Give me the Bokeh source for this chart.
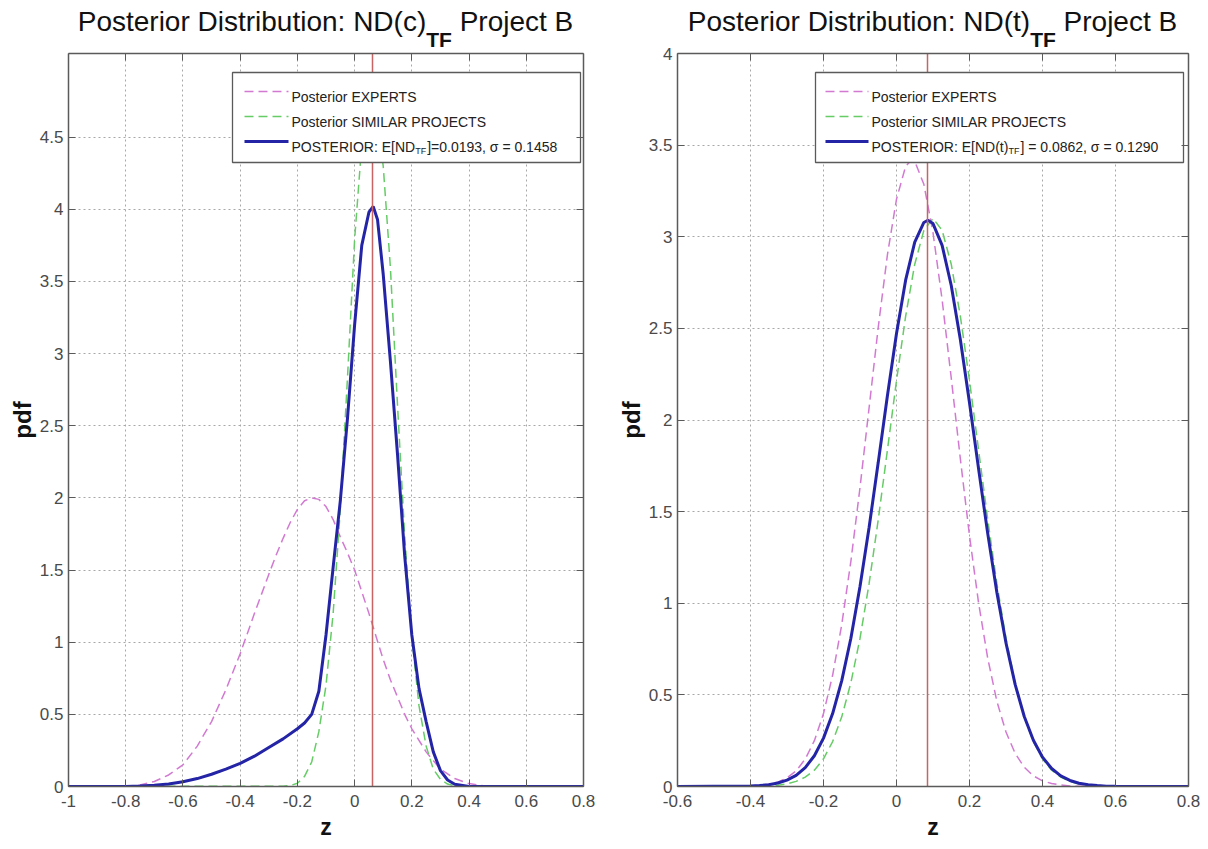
from bokeh.plotting import figure
from bokeh.layouts import row, column
from bokeh.models import LinearAxis, FixedTicker, CustomJSTickFormatter, Label, Range1d, Div
from bokeh.embed import file_html
from bokeh.resources import INLINE

# ---------------- data ----------------
# Left panel: ND(c)_TF
x_range_left = (-1, 0.8)
y_range_left = (0, 5.08)
x_ticks_left = [-1, -0.8, -0.6, -0.4, -0.2, 0, 0.2, 0.4, 0.6, 0.8]
y_ticks_left = [0, 0.5, 1, 1.5, 2, 2.5, 3, 3.5, 4, 4.5]

zL_exp = [-1, -0.8, -0.75, -0.7, -0.65, -0.6, -0.55, -0.5, -0.45, -0.4, -0.35, -0.3, -0.275, -0.25,
          -0.225, -0.2, -0.175, -0.15, -0.125, -0.1, -0.075, -0.05, -0.025, 0, 0.025, 0.05, 0.075,
          0.1, 0.125, 0.15, 0.175, 0.2, 0.25, 0.3, 0.35, 0.4, 0.45, 0.5, 0.8]
pL_exp = [0, 0, 0.01, 0.035, 0.08, 0.15, 0.28, 0.45, 0.67, 0.92, 1.2, 1.47, 1.6, 1.72,
          1.83, 1.92, 1.98, 2.0, 1.99, 1.94, 1.85, 1.73, 1.62, 1.5, 1.35, 1.2, 1.04,
          0.88, 0.74, 0.62, 0.5, 0.4, 0.24, 0.12, 0.055, 0.02, 0.005, 0, 0]

zL_sim = [-1, -0.25, -0.225, -0.2, -0.175, -0.15, -0.125, -0.1, -0.075, -0.05, -0.025, 0, 0.025,
          0.05, 0.06, 0.075, 0.1, 0.125, 0.15, 0.175, 0.2, 0.225, 0.25, 0.275, 0.3, 0.325, 0.35,
          0.375, 0.8]
pL_sim = [0, 0.002, 0.007, 0.022, 0.07, 0.17, 0.38, 0.7, 1.2, 1.92, 2.83, 3.79, 4.45,
          4.73, 4.75, 4.68, 4.3, 3.6, 2.64, 1.74, 1.04, 0.56, 0.28, 0.12, 0.05, 0.017, 0.006,
          0.002, 0]

zL_post = [-1, -0.8, -0.75, -0.7, -0.65, -0.6, -0.55, -0.5, -0.45, -0.4, -0.35, -0.3, -0.25, -0.2,
           -0.175, -0.15, -0.125, -0.1, -0.075, -0.05, -0.025, 0, 0.025, 0.05, 0.065, 0.08, 0.1,
           0.125, 0.15, 0.175, 0.2, 0.225, 0.25, 0.275, 0.3, 0.325, 0.35, 0.4, 0.8]
pL_post = [0, 0, 0.003, 0.008, 0.018, 0.033, 0.055, 0.085, 0.12, 0.16, 0.21, 0.27, 0.33, 0.4,
           0.44, 0.5, 0.66, 1.05, 1.52, 1.98, 2.55, 3.2, 3.75, 3.98, 4.02, 3.93, 3.55,
           2.95, 2.3, 1.6, 1.05, 0.68, 0.45, 0.24, 0.11, 0.045, 0.015, 0, 0]

marker_left = 0.063

# Right panel: ND(t)_TF
x_range_right = (-0.6, 0.8)
y_range_right = (0, 4)
x_ticks_right = [-0.6, -0.4, -0.2, 0, 0.2, 0.4, 0.6, 0.8]
y_ticks_right = [0, 0.5, 1, 1.5, 2, 2.5, 3, 3.5, 4]

zR_exp = [-0.6, -0.4, -0.375, -0.35, -0.325, -0.3, -0.275, -0.25, -0.225, -0.2, -0.175, -0.15,
          -0.125, -0.1, -0.075, -0.05, -0.025, 0, 0.025, 0.042, 0.05, 0.075, 0.1, 0.125, 0.15,
          0.175, 0.2, 0.225, 0.25, 0.275, 0.3, 0.325, 0.35, 0.375, 0.4, 0.425, 0.45, 0.475, 0.5, 0.8]
pR_exp = [0, 0.003, 0.006, 0.012, 0.024, 0.047, 0.085, 0.150, 0.250, 0.398, 0.607, 0.884,
          1.229, 1.631, 2.068, 2.506, 2.900, 3.205, 3.384, 3.42, 3.412, 3.286, 3.023, 2.656, 2.229,
          1.787, 1.368, 1.000, 0.699, 0.465, 0.297, 0.181, 0.105, 0.058, 0.031, 0.016, 0.008, 0.003, 0.001, 0]

zR_sim = [-0.6, -0.35, -0.325, -0.3, -0.275, -0.25, -0.225, -0.2, -0.175, -0.15, -0.125, -0.1,
          -0.075, -0.05, -0.025, 0, 0.025, 0.05, 0.075, 0.1, 0.125, 0.15, 0.175, 0.2, 0.225, 0.25,
          0.275, 0.3, 0.325, 0.35, 0.375, 0.4, 0.425, 0.45, 0.475, 0.5, 0.525, 0.55, 0.8]
pR_sim = [0, 0.003, 0.007, 0.014, 0.028, 0.051, 0.089, 0.151, 0.245, 0.380, 0.566, 0.808,
          1.108, 1.456, 1.834, 2.215, 2.566, 2.850, 3.035, 3.1, 3.035, 2.850, 2.566, 2.215, 1.834, 1.456,
          1.108, 0.808, 0.566, 0.380, 0.245, 0.151, 0.089, 0.051, 0.028, 0.014, 0.007, 0.003, 0]

zR_post = [-0.6, -0.4, -0.375, -0.35, -0.325, -0.3, -0.275, -0.25, -0.225, -0.2, -0.175, -0.15,
           -0.125, -0.1, -0.075, -0.05, -0.025, 0, 0.025, 0.05, 0.075, 0.086, 0.1, 0.125, 0.15,
           0.175, 0.2, 0.225, 0.25, 0.275, 0.3, 0.325, 0.35, 0.375, 0.4, 0.425, 0.45, 0.475, 0.5,
           0.525, 0.55, 0.575, 0.6, 0.8]
pR_post = [0, 0.003, 0.005, 0.010, 0.019, 0.035, 0.061, 0.103, 0.168, 0.264, 0.398, 0.578,
           0.809, 1.091, 1.415, 1.769, 2.131, 2.472, 2.763, 2.971, 3.078, 3.09, 3.072, 2.953, 2.734,
           2.438, 2.094, 1.732, 1.380, 1.059, 0.783, 0.557, 0.382, 0.252, 0.160, 0.098, 0.058, 0.033, 0.018,
           0.009, 0.005, 0.002, 0.001, 0]

marker_right = 0.0862

legend_labels = ["Posterior EXPERTS", "Posterior SIMILAR PROJECTS"]
post_label_left = ("POSTERIOR: E[ND", "TF", "]=0.0193, \u03c3 = 0.1458")
post_label_right = ("POSTERIOR: E[ND(t)", "TF", "] = 0.0862, \u03c3 = 0.1290")
title_left = ("Posterior Distribution: ND(c)", "TF", " Project B")
title_right = ("Posterior Distribution: ND(t)", "TF", " Project B")
x_label = "z"
y_label = "pdf"

# ---------------- style ----------------
FONT = "Liberation Sans"
C_EXP = "#d27ad2"
C_SIM = "#66cc66"
C_POST = "#2424a6"
C_MARK = "#c86464"
C_GRID = "#a8a8a8"
C_AXIS = "#5a5a5a"
C_TICK = "#4a4a4a"
TITLE_H = 40

CW = {' ': 278, '(': 333, ')': 333, ',': 278, '-': 333, '.': 278, ':': 278, '=': 584, '[': 278,
      ']': 278, 'A': 667, 'B': 667, 'C': 722, 'D': 722, 'E': 667, 'F': 611, 'I': 278, 'J': 500,
      'L': 556, 'M': 833, 'N': 722, 'O': 778, 'P': 667, 'R': 722, 'S': 667, 'T': 611, 'X': 667,
      'a': 556, 'b': 556, 'c': 500, 'd': 556, 'e': 556, 'i': 222, 'j': 222, 'n': 556, 'o': 556,
      'r': 333, 's': 500, 't': 278, 'u': 556, '\u03c3': 600}


def text_w(s, size):
    return sum(CW.get(ch, 556) for ch in s) / 1000.0 * size


def make_title(geom, title):
    html = (f'<div style="margin-left:{geom["bl"]}px;width:{geom["width"] - geom["bl"] - geom["br"]}px;'
            f'text-align:center;white-space:nowrap;font-family:\'{FONT}\';font-size:28px;'
            f'line-height:28px;height:28px;color:#111111;padding-top:8px;overflow:visible;">'
            f'{title[0]}<span style="font-size:21px;font-weight:bold;vertical-align:-16px;'
            f'line-height:21px;">{title[1]}</span>{title[2]}</div>')
    return Div(text=html, width=geom["width"], height=TITLE_H,
               styles={"margin": "0", "padding": "0", "overflow": "visible", "z-index": "5"})


def make_panel(geom, xr, yr, xt, yt, curves, marker, post_label, leg):
    W, H = geom["width"], geom["height"]
    bl, br, bt, bb = geom["bl"], geom["br"], geom["bt"], geom["bb"]
    fw, fh = W - bl - br, H - bt - bb
    fx0, fy0 = geom["page_x"] + bl, TITLE_H + bt

    def D(px, py):
        return (xr[0] + (px - fx0) / fw * (xr[1] - xr[0]),
                yr[1] - (py - fy0) / fh * (yr[1] - yr[0]))

    p = figure(width=W, height=H, x_range=Range1d(*xr), y_range=Range1d(*yr),
               output_backend="svg", toolbar_location=None,
               min_border_left=bl, min_border_right=br, min_border_top=bt, min_border_bottom=bb,
               background_fill_color="white", border_fill_color="white", border_fill_alpha=0,
               outline_line_color=None)

    fmt = CustomJSTickFormatter(code="return tick.toString();")
    blank = CustomJSTickFormatter(code="return '';")

    def style_axis(ax, ticks, formatter, standoff, size="17px"):
        ax.ticker = FixedTicker(ticks=ticks)
        ax.formatter = formatter
        ax.minor_tick_line_color = None
        ax.major_tick_in = 7
        ax.major_tick_out = 0
        ax.major_tick_line_color = C_AXIS
        ax.axis_line_color = C_AXIS
        ax.axis_line_width = 1.5
        ax.major_label_text_font = FONT
        ax.major_label_text_font_size = size
        ax.major_label_text_color = C_TICK
        ax.major_label_standoff = standoff

    bottom_ax = p.below[0]
    left_ax = p.left[0]
    style_axis(bottom_ax, xt, fmt, 8)
    style_axis(left_ax, yt, fmt, 5)
    bottom_ax.axis_label = x_label
    left_ax.axis_label = y_label
    for ax, sz, so in ((bottom_ax, "23px", 4), (left_ax, "24px", 1)):
        ax.axis_label_text_font = FONT
        ax.axis_label_text_font_size = sz
        ax.axis_label_text_font_style = "bold"
        ax.axis_label_text_color = "#111111"
        ax.axis_label_standoff = so

    top = LinearAxis()
    style_axis(top, xt, blank, 0, "0px")
    p.add_layout(top, "above")
    right = LinearAxis()
    style_axis(right, yt, blank, 0, "0px")
    p.add_layout(right, "right")

    p.xgrid.ticker = FixedTicker(ticks=xt)
    p.ygrid.ticker = FixedTicker(ticks=yt)
    for g in (p.xgrid[0], p.ygrid[0]):
        g.grid_line_color = C_GRID
        g.grid_line_dash = "2 3"
        g.grid_line_width = 1

    for (zx, py, color, dash, lw) in curves:
        p.line(zx, py, line_color=color, line_dash=dash, line_width=lw)

    p.vspan(x=[marker], line_color=C_MARK, line_width=1.5)

    # legend box
    (lx0, ly0), (lx1, ly1) = D(leg["left"], leg["top"]), D(leg["right"], leg["bottom"])
    p.quad(left=[lx0], right=[lx1], top=[ly0], bottom=[ly1], fill_color="white",
           line_color="#5a5a5a", line_width=1.3)
    styles = [(C_EXP, "9 5", 1.5), (C_SIM, "9 5", 1.5), (C_POST, "solid", 3)]
    for i, (c, d, w) in enumerate(styles):
        yc = leg["rows"][i]
        (sx0, sy), (sx1, _) = D(leg["s0"], yc), D(leg["s1"], yc)
        p.line([sx0, sx1], [sy, sy], line_color=c, line_dash=d, line_width=w)

    fs = 14
    tx = leg["s1"] + 3
    for i, lab in enumerate(legend_labels):
        x, y = D(tx, leg["rows"][i] + 5)
        p.add_layout(Label(x=x, y=y, text=lab, text_font=FONT, text_font_size=f"{fs}px",
                           text_color="#222222", text_baseline="alphabetic", text_align="left"))
    yc = leg["rows"][2]
    cx = tx
    for j, part in enumerate(post_label):
        if j == 1:
            size, dy = 9, 9
        else:
            size, dy = fs, 5
        x, y = D(cx, yc + dy)
        p.add_layout(Label(x=x, y=y, text=part, text_font=FONT, text_font_size=f"{size}px",
                           text_color="#222222", text_baseline="alphabetic", text_align="left"))
        cx += text_w(part, size) + (1 if j == 1 else 0)
    return p


geom_left = dict(page_x=0, width=608, height=806, bl=68, br=25, bt=13, bb=60)
geom_right = dict(page_x=608, width=600, height=806, bl=69, br=20, bt=13, bb=60)

leg_left = dict(left=232, right=580, top=72, bottom=162, rows=[91, 116, 141], s0=244, s1=288)
leg_right = dict(left=815, right=1183, top=72, bottom=162, rows=[91, 116, 141], s0=825, s1=868)

curves_left = [(zL_exp, pL_exp, C_EXP, "9 5", 1.5),
               (zL_sim, pL_sim, C_SIM, "9 5", 1.5),
               (zL_post, pL_post, C_POST, "solid", 3)]
curves_right = [(zR_exp, pR_exp, C_EXP, "9 5", 1.5),
                (zR_sim, pR_sim, C_SIM, "9 5", 1.5),
                (zR_post, pR_post, C_POST, "solid", 3)]

p1 = make_panel(geom_left, x_range_left, y_range_left, x_ticks_left, y_ticks_left,
                curves_left, marker_left, post_label_left, leg_left)
p2 = make_panel(geom_right, x_range_right, y_range_right, x_ticks_right, y_ticks_right,
                curves_right, marker_right, post_label_right, leg_right)
t1 = make_title(geom_left, title_left)
t2 = make_title(geom_right, title_right)

layout = column(row(t1, t2, spacing=0, styles={"overflow": "visible", "z-index": "5"}),
                row(p1, p2, spacing=0), spacing=0)
open("out.html", "w").write(file_html(layout, INLINE))
